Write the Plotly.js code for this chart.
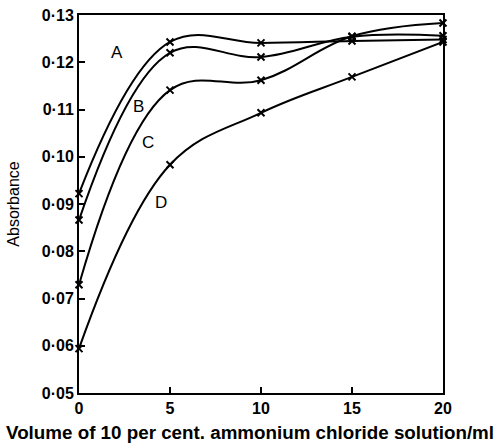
<!DOCTYPE html>
<html>
<head>
<meta charset="utf-8">
<script src="https://cdn.plot.ly/plotly-3.0.1.min.js"></script>
<style>
  html, body { margin: 0; padding: 0; background: #fff; }
  #chart { width: 500px; height: 446px; }
</style>
</head>
<body>
<div id="chart"></div>
<script>
// Volume of ammonium chloride solution added (ml)
const volume = [0, 5, 10, 15, 20];

// Absorbance readings for the four curves
const seriesA = [0.0922, 0.1243, 0.1241, 0.1245, 0.1248];
const seriesB = [0.0866, 0.1220, 0.1211, 0.1254, 0.1256];
const seriesC = [0.0729, 0.1141, 0.1162, 0.1255, 0.1283];
const seriesD = [0.0594, 0.0983, 0.1093, 0.1169, 0.1243];

const seriesNames = ['A', 'B', 'C', 'D'];
// Where each curve letter sits on the chart
const labelX = [2.09, 3.25, 3.8, 4.5];
const labelY = [0.1220, 0.1107, 0.1030, 0.0904];

const xTicks = [0, 5, 10, 15, 20];
const yTickVals = [0.05, 0.06, 0.07, 0.08, 0.09, 0.10, 0.11, 0.12, 0.13];
const yTickText = ['0·05', '0·06', '0·07', '0·08', '0·09', '0·10', '0·11', '0·12', '0·13'];
const xTitle = 'Volume of 10 per cent. ammonium chloride solution/ml';

const fontFamily = '"Liberation Sans", Arial, sans-serif';

const allSeries = [seriesA, seriesB, seriesC, seriesD];
const traces = allSeries.map((ys, i) => ({
  x: volume,
  y: ys,
  name: seriesNames[i],
  type: 'scatter',
  mode: 'lines+markers',
  line: { color: '#000', width: 2, shape: 'spline', smoothing: 1.1 },
  marker: { symbol: 'x-thin', size: 7, color: '#000', line: { color: '#000', width: 2 } },
  cliponaxis: false,
  showlegend: false
}));

const annotations = seriesNames.map((n, i) => ({
  x: labelX[i], y: labelY[i], text: n, showarrow: false,
  font: { family: fontFamily, size: 17, color: '#000' }
}));

// Axis title for volume, centred under the whole figure
annotations.push({
  xref: 'paper', yref: 'paper', x: 0.47, y: 0, yshift: -39,
  xanchor: 'center', yanchor: 'middle', showarrow: false,
  text: xTitle,
  font: { family: fontFamily, size: 18.8, color: '#000', weight: 'bold' }
});

const layout = {
  width: 500, height: 446,
  margin: { l: 79, r: 57, t: 15, b: 53 },
  paper_bgcolor: '#fff', plot_bgcolor: '#fff',
  font: { family: fontFamily, color: '#000' },
  xaxis: {
    range: [0, 20], tickvals: xTicks, ticktext: xTicks.map(String),
    showgrid: false, zeroline: false,
    showline: true, mirror: true, linecolor: '#000', linewidth: 2,
    ticks: 'inside', ticklen: 6, tickwidth: 2, tickcolor: '#000',
    tickfont: { family: fontFamily, size: 16, color: '#000', weight: 'bold' }
  },
  yaxis: {
    range: [0.05, 0.13], tickvals: yTickVals, ticktext: yTickText,
    showgrid: false, zeroline: false,
    showline: true, mirror: true, linecolor: '#000', linewidth: 2,
    ticks: 'inside', ticklen: 6, tickwidth: 2, tickcolor: '#000',
    tickfont: { family: fontFamily, size: 16, color: '#000', weight: 'bold' },
    title: { text: 'Absorbance', standoff: 18,
             font: { family: fontFamily, size: 16, color: '#000' } }
  },
  annotations: annotations
};

Plotly.newPlot('chart', traces, layout, { displayModeBar: false, staticPlot: true });
</script>
</body>
</html>
